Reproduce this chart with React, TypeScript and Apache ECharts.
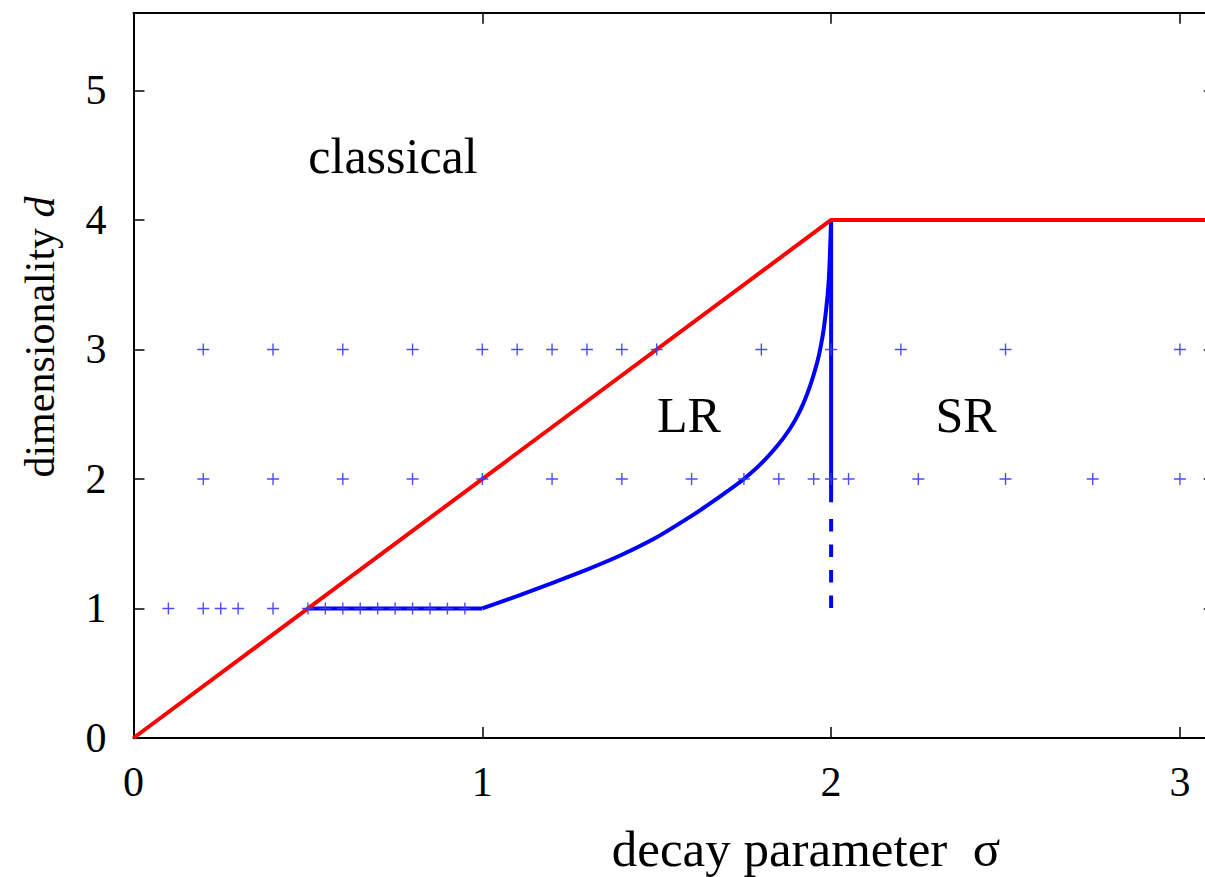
import React, { useEffect, useRef } from "react";
import * as echarts from "echarts";

// Phase boundaries in the (sigma, d) plane
const classicalBoundary: [number, number][] = [
  [0, 0],
  [2, 4],
  [3.1, 4],
];
const lrFlat: [number, number][] = [
  [0.5, 1],
  [1, 1],
];
const lrCurve: [number, number][] = [
  [1.0, 1.0],
  [1.1, 1.095],
  [1.2, 1.195],
  [1.3, 1.3],
  [1.4, 1.415],
  [1.5, 1.55],
  [1.6, 1.715],
  [1.65, 1.805],
  [1.7, 1.9],
  [1.75, 2.0],
  [1.8, 2.12],
  [1.85, 2.27],
  [1.88, 2.38],
  [1.9, 2.47],
  [1.92, 2.58],
  [1.94, 2.72],
  [1.96, 2.9],
  [1.97, 3.02],
  [1.98, 3.18],
  [1.99, 3.42],
  [1.995, 3.62],
  [2.0, 4.0],
];
const srSolid: [number, number][] = [
  [2, 4],
  [2, 1.82],
];
const srDashed: [number, number][] = [
  [2, 1.69],
  [2, 1.0],
];

// Simulated (sigma) values for each dimensionality
const sigmaD1 = [0.1, 0.2, 0.25, 0.3, 0.4, 0.5, 0.55, 0.6, 0.65, 0.7, 0.75, 0.8, 0.85, 0.9, 0.95];
const sigmaD2 = [0.2, 0.4, 0.6, 0.8, 1.0, 1.2, 1.4, 1.6, 1.75, 1.85, 1.95, 2.0, 2.05, 2.25, 2.5, 2.75, 3.0];
const sigmaD3 = [0.2, 0.4, 0.6, 0.8, 1.0, 1.1, 1.2, 1.3, 1.4, 1.5, 1.8, 2.0, 2.2, 2.5, 3.0];

const xTicks = [0, 1, 2, 3];
const yTicks = [0, 1, 2, 3, 4, 5];

const FONT = "'Liberation Serif', 'Times New Roman', serif";
const PLUS = "path://M0,5.3H12V6.7H0Z M5.3,0H6.7V12H5.3Z";

export default function App() {
  const ref = useRef<HTMLDivElement>(null);

  useEffect(() => {
    if (!ref.current) return;
    const chart = echarts.init(ref.current, undefined, { renderer: "svg" });

    const frameLine = { show: true, onZero: false, lineStyle: { color: "#000", width: 2 } };
    const tick = { show: true, inside: true, length: 11, lineStyle: { color: "#000", width: 1.5 } };

    const points = [
      ...sigmaD1.map((s) => [s, 1]),
      ...sigmaD2.map((s) => [s, 2]),
      ...sigmaD3.map((s) => [s, 3]),
    ];

    chart.setOption({
      animation: false,
      backgroundColor: "#fff",
      grid: { left: 133.5, top: 12.7, right: 5.2, bottom: 139, containLabel: false },
      xAxis: [
        {
          type: "value",
          position: "bottom",
          min: 0,
          max: 3.1,
          interval: 1,
          axisLine: frameLine,
          axisTick: { ...tick, customValues: xTicks },
          axisLabel: {
            customValues: xTicks,
            fontFamily: FONT,
            fontSize: 42,
            color: "#000",
            margin: 23,
          },
          splitLine: { show: false },
        },
        {
          type: "value",
          position: "top",
          min: 0,
          max: 3.1,
          interval: 1,
          axisLine: frameLine,
          axisTick: { ...tick, customValues: xTicks },
          axisLabel: { show: false },
          splitLine: { show: false },
        },
      ],
      yAxis: [
        {
          type: "value",
          position: "left",
          min: 0,
          max: 5.6,
          interval: 1,
          axisLine: frameLine,
          axisTick: { ...tick, customValues: yTicks },
          axisLabel: {
            customValues: yTicks,
            fontFamily: FONT,
            fontSize: 42,
            color: "#000",
            margin: 27,
          },
          splitLine: { show: false },
        },
        {
          type: "value",
          position: "right",
          min: 0,
          max: 5.6,
          interval: 1,
          axisLine: frameLine,
          axisTick: { ...tick, customValues: yTicks },
          axisLabel: { show: false },
          splitLine: { show: false },
        },
      ],
      series: [
        {
          type: "line",
          data: lrFlat,
          showSymbol: false,
          lineStyle: { color: "#0000ff", width: 4 },
          z: 2,
        },
        {
          type: "line",
          data: lrCurve,
          showSymbol: false,
          smooth: 0.15,
          lineStyle: { color: "#0000ff", width: 4, join: "round" },
          z: 2,
        },
        {
          type: "line",
          data: srSolid,
          showSymbol: false,
          lineStyle: { color: "#0000ff", width: 4 },
          z: 2,
        },
        {
          type: "line",
          data: srDashed,
          showSymbol: false,
          lineStyle: { color: "#0000ff", width: 4, type: [12.5, 13], cap: "butt" },
          z: 2,
        },
        {
          type: "line",
          data: classicalBoundary,
          showSymbol: false,
          lineStyle: { color: "#ff0000", width: 4 },
          z: 3,
        },
        {
          type: "scatter",
          data: points,
          symbol: PLUS,
          symbolSize: 12,
          itemStyle: { color: "#3a3aff", opacity: 0.9 },
          z: 4,
        },
      ],
      graphic: [
        {
          type: "text",
          x: 393,
          y: 156,
          style: { text: "classical", font: `50px ${FONT}`, fill: "#000", textAlign: "center", textVerticalAlign: "middle" },
        },
        {
          type: "text",
          x: 689,
          y: 415,
          style: { text: "LR", font: `50px ${FONT}`, fill: "#000", textAlign: "center", textVerticalAlign: "middle" },
        },
        {
          type: "text",
          x: 966,
          y: 415,
          style: { text: "SR", font: `50px ${FONT}`, fill: "#000", textAlign: "center", textVerticalAlign: "middle" },
        },
        {
          type: "text",
          x: 806,
          y: 849,
          style: {
            text: "decay parameter  σ",
            font: `51px ${FONT}`,
            fill: "#000",
            textAlign: "center",
            textVerticalAlign: "middle",
          },
        },
        {
          type: "text",
          x: 40,
          y: 337,
          rotation: Math.PI / 2,
          style: {
            text: "{n|dimensionality }{i|d}",
            textAlign: "center",
            textVerticalAlign: "middle",
            fill: "#000",
            rich: {
              n: { fontFamily: FONT, fontSize: 42, fill: "#000" },
              i: { fontFamily: FONT, fontSize: 42, fontStyle: "italic", fill: "#000" },
            },
          },
        },
      ],
    });

    return () => chart.dispose();
  }, []);

  return (
    <div style={{ position: "fixed", left: 0, top: 0, width: 1205, height: 877, overflow: "hidden", background: "#fff" }}>
      <div ref={ref} style={{ width: 1220, height: 877 }} />
    </div>
  );
}
